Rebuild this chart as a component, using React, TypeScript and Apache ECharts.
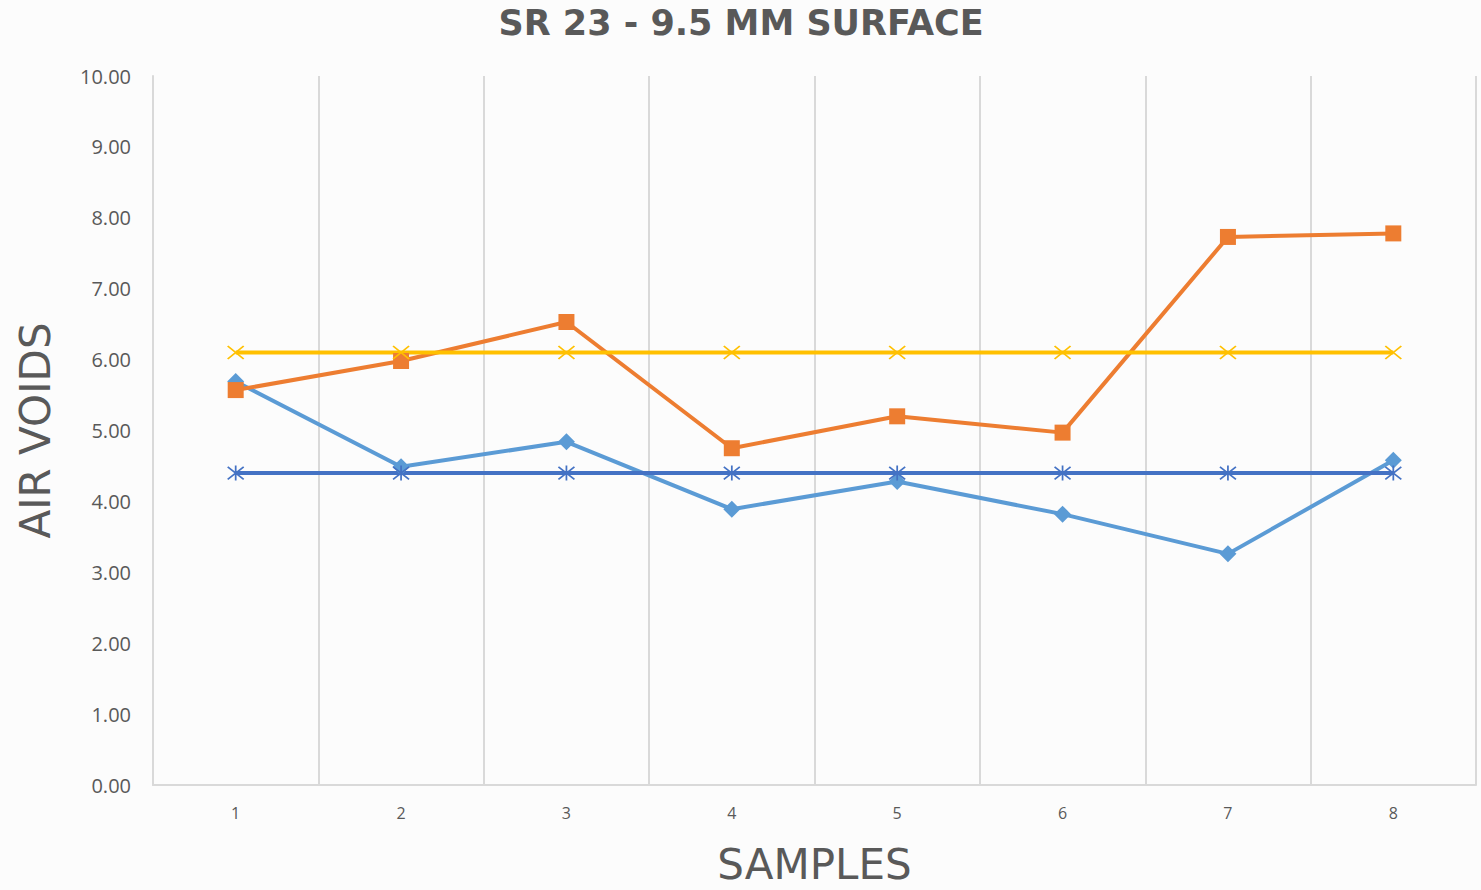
import React, { useEffect, useRef } from "react";
import * as echarts from "echarts";

const categories = ["1", "2", "3", "4", "5", "6", "7", "8"];
const blueDiamond = [5.69, 4.49, 4.84, 3.89, 4.28, 3.82, 3.26, 4.58];
const orangeSquare = [5.57, 5.98, 6.53, 4.75, 5.2, 4.97, 7.73, 7.78];
const yellowX = [6.1, 6.1, 6.1, 6.1, 6.1, 6.1, 6.1, 6.1];
const darkBlueStar = [4.4, 4.4, 4.4, 4.4, 4.4, 4.4, 4.4, 4.4];

const titleText = "SR 23 - 9.5 MM SURFACE";
const yTitle = "AIR VOIDS";
const xTitle = "SAMPLES";

const FONT = "'Open Sans', 'Liberation Sans', sans-serif";
const WIDE = "'DejaVu Sans', 'Open Sans', sans-serif";
const GRAY = "#595959";

export default function App() {
  const ref = useRef<HTMLDivElement>(null);
  useEffect(() => {
    document.body.style.margin = "0";
    const chart = echarts.init(ref.current!, null, { renderer: "svg" });
    const lineSeries = (name: string, data: number[], color: string, symbol: string, size: number | number[], hollow: boolean) => ({
      name,
      type: "line",
      data,
      symbol,
      symbolSize: size,
      showSymbol: true,
      lineStyle: { color, width: 4 },
      itemStyle: hollow
        ? { color: "rgba(0,0,0,0)", borderColor: color, borderWidth: 1.7 }
        : { color, borderWidth: 0 },
      emphasis: { disabled: true },
    });
    chart.setOption({
      animation: false,
      backgroundColor: "#fcfcfc",
      title: {
        text: titleText,
        left: 736,
        textAlign: "center",
        top: 0,
        textStyle: { fontFamily: WIDE, fontWeight: "bold", fontSize: 35, color: GRAY },
      },
      grid: { left: 153, right: 5, top: 76, bottom: 105 },
      xAxis: {
        type: "category",
        data: categories,
        boundaryGap: true,
        name: xTitle,
        nameLocation: "middle",
        nameGap: 58,
        nameTextStyle: { fontFamily: WIDE, fontSize: 42, color: GRAY },
        axisLine: { lineStyle: { color: "#d9d9d9", width: 2 } },
        axisTick: { show: false },
        axisLabel: { fontFamily: FONT, fontSize: 16, color: GRAY, margin: 20 },
        splitLine: { show: true, lineStyle: { color: "#d9d9d9", width: 2 } },
      },
      yAxis: {
        type: "value",
        min: 0,
        max: 10,
        interval: 1,
        name: yTitle,
        nameLocation: "middle",
        nameGap: 97,
        nameTextStyle: { fontFamily: WIDE, fontSize: 42, color: GRAY },
        axisLine: { show: true, lineStyle: { color: "#d9d9d9", width: 2 } },
        axisTick: { show: false },
        splitLine: { show: false },
        axisLabel: {
          fontFamily: FONT,
          fontSize: 20,
          color: GRAY,
          margin: 22,
          formatter: (v: number) => v.toFixed(2),
        },
      },
      series: [
        lineSeries("Series 1", blueDiamond, "#5B9BD5", "diamond", [17, 17], false),
        lineSeries("Series 2", orangeSquare, "#ED7D31", "rect", [16, 16], false),
        lineSeries("Series 3", yellowX, "#FFC000", "path://M0,0L10,10M10,0L0,10", [16, 13], true),
        lineSeries("Series 4", darkBlueStar, "#4472C4", "path://M0,0L10,10M10,0L0,10M5,-1L5,11", [16, 15], true),
      ],
    });
    return () => chart.dispose();
  }, []);
  return <div ref={ref} style={{ position: "fixed", left: 0, top: 0, width: 1481, height: 890 }} />;
}
